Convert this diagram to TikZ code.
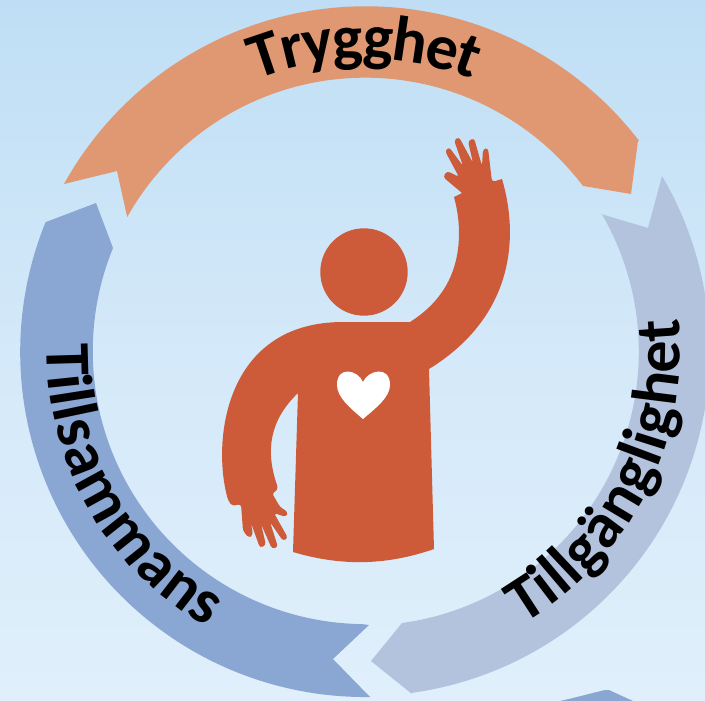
\documentclass[tikz,border=0pt]{standalone}
\usepackage{fontspec}
\setmainfont{Carlito}
\usetikzlibrary{decorations.text}
\definecolor{sky top}{RGB}{191,222,245}
\definecolor{sky middle}{RGB}{212,233,249}
\definecolor{sky bottom}{RGB}{224,239,251}
\definecolor{safe}{RGB}{224,152,115}
\definecolor{access}{RGB}{179,195,222}
\definecolor{together}{RGB}{138,166,211}
\definecolor{figure}{RGB}{205,91,58}
\begin{document}
\begin{tikzpicture}[x=1pt, y=-1pt,
    figure shape/.style={fill=figure, draw=none},
    ring text/.style n args={3}{decorate, decoration={text along path, text align=center, raise=#2,
      text={|\fontsize{#3}{#3}\selectfont\bfseries|#1}}}
  ]
  \useasboundingbox (0,0) rectangle (705,701);
  \shade [top color=sky top, bottom color=sky bottom, middle color=sky middle] (0,0) rectangle (705,701);
  \coordinate (c) at (365,351);

  % ring
  \fill [safe] (64,184) arc [start angle=-151, end angle=-37.6, radius=345] -- (638,141) -- (631,194) -- (583,186)
    arc [start angle=-37.1, end angle=-150.7, radius=273] -- (117,171) -- cycle;
  \fill [access] (662,176) arc [start angle=-30.5, end angle=82.2, radius=345] -- (412,694) -- (371,661) -- (402,623)
    arc [start angle=82.2, end angle=-30, radius=274] -- (601,214) -- (648,228) -- cycle;
  \fill [together] (370,697) arc [start angle=89.2, end angle=202, radius=345] -- (46,222) -- (96,203) -- (113,248)
    arc [start angle=202.2, end angle=90.8, radius=273] -- (369,625) -- (333,659) -- cycle;
  \fill [together] (560,701) .. controls (578,697) and (592,693) .. (605,690) -- (609,690) -- (633,701) -- cycle;

  % labels
  \path [ring text={Trygghet}{-20pt}{64}] (c) ++(-145:312) arc [start angle=-145, end angle=-35, radius=312];
  \path [ring text={Tillsammans}{-10pt}{64}] (c) ++(205:308) arc [start angle=205, end angle=96, radius=308];
  \path [ring text={Tillgänglighet}{-6pt}{64}] (c) ++(87:309) arc [start angle=87, end angle=-33, radius=309];

  % person
  \fill [figure shape] (364,272) circle [radius=43.7];
  \fill [figure shape] (343,322) -- (410,322)
    .. controls (440,303) and (459,275) .. (459,233)
    .. controls (459,220) and (457,208) .. (454,197) -- (462,193)
    [rounded corners=3pt] -- (443,177) -- (447,171) -- (459,177) -- (445,151) -- (449,147) -- (463,166)
    -- (454,140) -- (459,137) -- (473,163) -- (468,141) -- (474,138) -- (482,166)
    -- (483,149) -- (488,148) -- (492,182) [sharp corners] -- (502,179)
    .. controls (520,240) and (512,318) .. (429,369) -- (434,549)
    .. controls (385,566) and (340,566) .. (293,552) -- (298,393)
    .. controls (270,420) and (265,450) .. (277,485)
    [rounded corners=3pt] -- (278,490) -- (272,493) -- (280,507) -- (288,512) -- (286,517) -- (274,513)
    -- (288,538) -- (283,541) -- (270,522) -- (278,547) -- (272,549) -- (261,524) -- (266,545) -- (260,548) -- (251,523)
    -- (253,535) -- (249,538) -- (243,531) -- (241,504) -- (232,506) -- (228,500) [sharp corners]
    .. controls (212,440) and (225,322) .. (343,322) -- cycle;
  \fill [white] (363,419) .. controls (350,408) and (337,397) .. (337,385)
    .. controls (337,365) and (358,370) .. (363,382)
    .. controls (368,370) and (390,365) .. (390,385)
    .. controls (390,397) and (376,408) .. (363,419) -- cycle;
\end{tikzpicture}
\end{document}
